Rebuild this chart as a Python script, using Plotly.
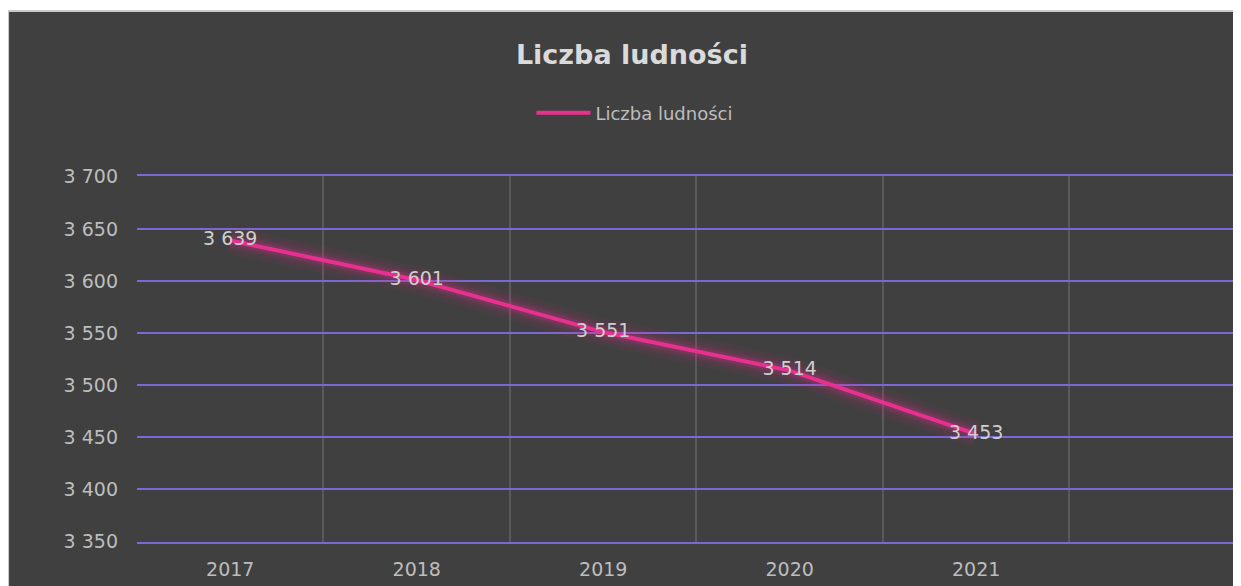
import plotly.graph_objects as go

years = ["2017", "2018", "2019", "2020", "2021"]
empty_slot = [" "]
population = [3639, 3601, 3551, 3514, 3453]
y_ticks = [3350, 3400, 3450, 3500, 3550, 3600, 3650, 3700]
series_name = "Liczba ludności"
title_text = "Liczba ludności"

BG = "#404040"
PINK = "#e7308f"
GRID_H = "#7b68d4"
GRID_V = "#5a5a5a"
FONT = "'DejaVu Sans', sans-serif"
TXT = "#bdbdbd"

fig = go.Figure()

# soft glow under the line
for w, a in [(28, 0.05), (20, 0.07), (14, 0.10), (9, 0.16)]:
    fig.add_trace(go.Scatter(
        x=years, y=population, mode="lines",
        line=dict(color=f"rgba(231,48,143,{a})", width=w, shape="linear"),
        hoverinfo="skip", showlegend=False,
    ))

fig.add_trace(go.Scatter(
    x=years, y=population, mode="lines+text", name=series_name,
    line=dict(color=PINK, width=4),
    texttemplate="%{y:,d}", textposition="middle center",
    textfont=dict(family=FONT, size=19, color="#cfcfcf"),
))

fig.update_layout(
    width=1233, height=578,
    margin=dict(l=129, r=0, t=168, b=44),
    paper_bgcolor="white",
    plot_bgcolor="rgba(0,0,0,0)",
    separators=". ",
    font=dict(family=FONT, color=TXT, size=19),
    title=dict(text=f"<b>{title_text}</b>", x=0.506, xref="container",
               y=0.9187, yref="container", xanchor="center", yanchor="middle",
               font=dict(family=FONT, size=27, color="#dadada")),
    showlegend=True,
    legend=dict(orientation="h", x=0.451, xanchor="center", y=1.172,
                yanchor="middle", bgcolor="rgba(0,0,0,0)", itemwidth=54,
                font=dict(family=FONT, size=18, color=TXT)),
    shapes=[
        dict(type="rect", xref="paper", yref="paper",
             x0=-0.1168, x1=1.1, y0=-0.3, y1=1.4508,
             fillcolor=BG, line=dict(color="#c8c8c8", width=2),
             layer="below"),
    ],
)

fig.update_xaxes(
    type="category", categoryorder="array", categoryarray=years + empty_slot,
    range=[-0.5, 5.42], tickson="boundaries", showgrid=True,
    gridcolor=GRID_V, gridwidth=1.5, ticks="", showline=True, mirror=True,
    linecolor=GRID_H, linewidth=2, zeroline=False,
    tickfont=dict(family=FONT, size=19, color=TXT),
    ticklabelstandoff=9,
)
fig.update_yaxes(
    range=[3349.5, 3700.8], tickmode="array", tickvals=y_ticks,
    tickformat=",d", showgrid=True, gridcolor=GRID_H, gridwidth=2,
    zeroline=False, ticks="", ticklabelstandoff=18,
    tickfont=dict(family=FONT, size=19, color=TXT),
)

fig.write_html("out.html")
